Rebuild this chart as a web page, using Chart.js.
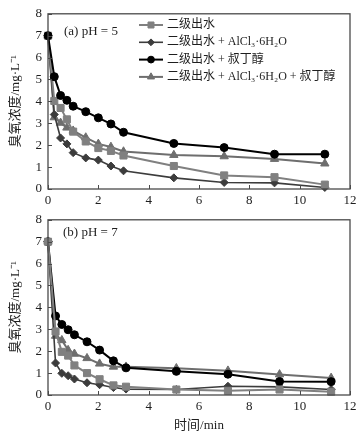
<!DOCTYPE html>
<html>
<head>
<meta charset="utf-8">
<script src="https://cdn.jsdelivr.net/npm/chart.js@4/dist/chart.umd.min.js"></script>
<style>
html,body{margin:0;padding:0;background:#fff;}
#wrap{position:relative;width:364px;height:437px;overflow:hidden;}
canvas{position:absolute;left:0;}
#c1{top:0;}
#c2{top:206px;}
</style>
</head>
<body>
<div id="wrap">
<canvas id="c1" width="364" height="206"></canvas>
<canvas id="c2" width="364" height="231"></canvas>
</div>
<script>
// ---- data ----
const seriesLabels = ['二级出水', '二级出水 + AlCl₃·6H₂O', '二级出水 + 叔丁醇', '二级出水 + AlCl₃·6H₂O + 叔丁醇'];
const panelLabels = ['(a) pH = 5', '(b) pH = 7'];
const xTitle = '时间/min';
const yTitle = '臭氧浓度/mg·L⁻¹';
const xTicks = [0, 2, 4, 6, 8, 10, 12];
const yTicks = [0, 1, 2, 3, 4, 5, 6, 7, 8];

// pH = 5
const time5 = [0, 0.25, 0.5, 0.75, 1, 1.5, 2, 2.5, 3, 5, 7, 9, 11];
const effluent5 = [7, 4.02, 3.70, 3.18, 2.62, 2.17, 1.87, 1.74, 1.53, 1.05, 0.62, 0.54, 0.20];
const alcl5 = [7, 3.40, 2.33, 2.06, 1.66, 1.42, 1.32, 1.05, 0.83, 0.51, 0.30, 0.28, 0.07];
const tba5 = [7, 5.13, 4.27, 4.05, 3.78, 3.53, 3.25, 2.97, 2.59, 2.08, 1.89, 1.59, 1.59];
const alclTba5 = [7, 3.27, 3.02, 2.80, 2.66, 2.35, 2.06, 1.92, 1.71, 1.55, 1.49, 1.37, 1.16];

// pH = 7
const time7 = [0, 0.3, 0.55, 0.8, 1.05, 1.55, 2.05, 2.6, 3.1, 5.1, 7.15, 9.2, 11.25];
const effluent7 = [7, 2.90, 1.97, 1.80, 1.35, 1.00, 0.72, 0.44, 0.38, 0.25, 0.19, 0.25, 0.15];
const alcl7 = [7, 1.46, 0.99, 0.88, 0.73, 0.56, 0.47, 0.34, 0.27, 0.25, 0.40, 0.37, 0.25];
const tba7 = [7, 3.61, 3.22, 2.98, 2.75, 2.43, 2.05, 1.56, 1.24, 1.08, 0.95, 0.62, 0.61];
const alclTba7 = [7, 2.70, 2.50, 2.05, 1.88, 1.68, 1.43, 1.29, 1.29, 1.22, 1.11, 0.94, 0.78];

// ---- styles ----
const styles = [
  {color: '#808080', pointStyle: 'rect', radius: 5, width: 2},
  {color: '#3c3c3c', pointStyle: 'rectRot', radius: 4, width: 1.6},
  {color: '#000000', pointStyle: 'circle', radius: 4, width: 2},
  {color: '#6e6e6e', pointStyle: 'triangle', radius: 4.8, width: 2}
];
const serifFont = '"Liberation Serif", "Times New Roman", "Noto Sans CJK SC", serif';
const mixFont = '"Liberation Serif", "Noto Sans CJK SC", serif';

function makeDatasets(times, arrs, orders) {
  return arrs.map((vals, i) => ({
    label: seriesLabels[i],
    data: times.map((t, k) => ({x: t, y: vals[k]})),
    showLine: true,
    borderColor: styles[i].color,
    backgroundColor: styles[i].color,
    pointBackgroundColor: styles[i].color,
    pointBorderColor: styles[i].color,
    pointStyle: styles[i].pointStyle,
    pointRadius: styles[i].radius,
    pointBorderWidth: 1,
    borderWidth: styles[i].width,
    tension: 0,
    clip: false,
    order: orders[i]
  }));
}

const framePlugin = {
  id: 'frame',
  afterDatasetsDraw(chart) {
    const {ctx, chartArea: a, scales} = chart;
    ctx.save();
    ctx.strokeStyle = '#4a4a4a';
    ctx.lineWidth = 1.3;
    ctx.strokeRect(a.left, a.top, a.right - a.left, a.bottom - a.top);
    ctx.lineWidth = 1;
    ctx.beginPath();
    scales.x.ticks.forEach(t => {
      const px = Math.round(scales.x.getPixelForValue(t.value)) + 0.5;
      ctx.moveTo(px, a.bottom); ctx.lineTo(px, a.bottom - 4);
    });
    scales.y.ticks.forEach(t => {
      const py = Math.round(scales.y.getPixelForValue(t.value)) + 0.5;
      ctx.moveTo(a.left, py); ctx.lineTo(a.left + 4, py);
    });
    ctx.stroke();
    ctx.restore();
  }
};

const annotPlugin = {
  id: 'annot',
  afterDraw(chart, args, opts) {
    const {ctx} = chart;
    ctx.save();
    ctx.fillStyle = '#1e1e1e';
    ctx.font = '13px ' + serifFont;
    ctx.textBaseline = 'middle';
    ctx.textAlign = 'left';
    ctx.fillText(opts.text, opts.x, opts.y);
    if (opts.legend) {
      const L = opts.legend;
      ctx.font = '12px ' + mixFont;
      chart.data.datasets.forEach((ds, i) => {
        const y = L.y0 + i * L.dy;
        ctx.strokeStyle = ds.borderColor;
        ctx.fillStyle = ds.backgroundColor;
        ctx.lineWidth = ds.borderWidth;
        ctx.beginPath();
        ctx.moveTo(L.x0, y); ctx.lineTo(L.x1, y);
        ctx.stroke();
        ctx.lineWidth = 1;
        Chart.helpers.drawPoint(ctx, {pointStyle: ds.pointStyle, radius: ds.pointRadius * 0.85, rotation: 0, borderWidth: 1}, (L.x0 + L.x1) / 2, y);
        ctx.fillStyle = '#1e1e1e';
        ctx.fillText(ds.label, L.tx, y);
      });
    }
    ctx.restore();
  }
};

function makeOptions(cfg) {
  return {
    responsive: false,
    animation: false,
    layout: {padding: {top: cfg.padTop, right: 14, left: 0, bottom: 0}},
    plugins: {
      legend: {display: false},
      tooltip: {enabled: false},
      annot: cfg.annot
    },
    scales: {
      x: {
        type: 'linear',
        min: 0, max: 12,
        afterBuildTicks: s => { s.ticks = xTicks.map(v => ({value: v})); },
        afterFit: s => { s.height = cfg.xHeight; },
        grid: {display: false, drawTicks: false},
        border: {display: false},
        ticks: {color: '#1e1e1e', padding: 4, font: {family: serifFont, size: 13}, maxRotation: 0},
        title: {display: cfg.showXTitle, text: xTitle, color: '#1e1e1e', padding: {top: 0, bottom: 4}, font: {family: mixFont, size: 13}}
      },
      y: {
        type: 'linear',
        min: 0, max: 8,
        afterBuildTicks: s => { s.ticks = yTicks.map(v => ({value: v})); },
        afterFit: s => { s.width = 48; },
        grid: {display: false, drawTicks: false},
        border: {display: false},
        ticks: {color: '#1e1e1e', padding: 6, font: {family: serifFont, size: 13}},
        title: {display: true, text: yTitle, color: '#1e1e1e', padding: {top: 8, bottom: 0}, font: {family: mixFont, size: 13}}
      }
    }
  };
}

new Chart(document.getElementById('c1'), {
  type: 'scatter',
  data: {datasets: makeDatasets(time5, [effluent5, alcl5, tba5, alclTba5], [2, 3, 1, 4])},
  options: makeOptions({
    padTop: 11, xHeight: 17, showXTitle: false,
    annot: {text: panelLabels[0], x: 64, y: 32, legend: {x0: 139, x1: 163, tx: 167, y0: 25, dy: 17.3}}
  }),
  plugins: [framePlugin, annotPlugin]
});

new Chart(document.getElementById('c2'), {
  type: 'scatter',
  data: {datasets: makeDatasets(time7, [effluent7, alcl7, tba7, alclTba7], [1, 3, 2, 4])},
  options: makeOptions({
    padTop: 6.7, xHeight: 42, showXTitle: true,
    annot: {text: panelLabels[1], x: 63, y: 27}
  }),
  plugins: [framePlugin, annotPlugin]
});
</script>
</body>
</html>
